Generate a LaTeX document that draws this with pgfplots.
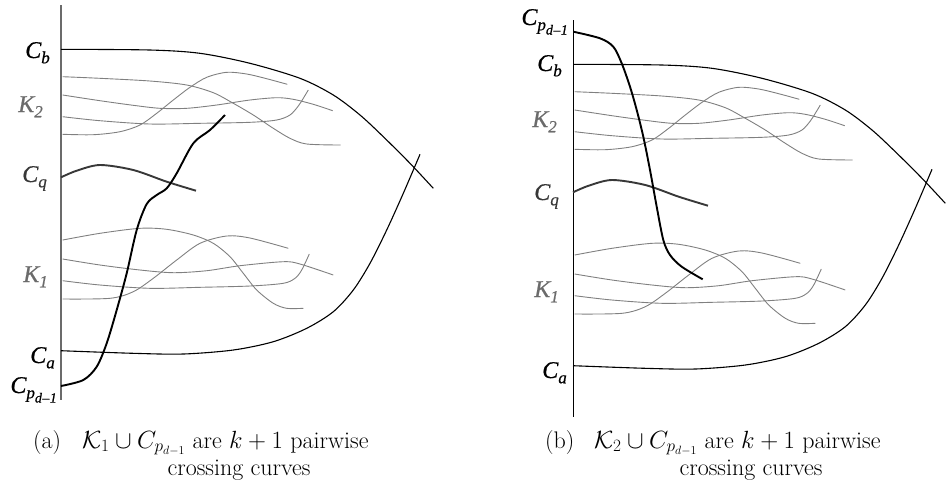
\documentclass[border=0pt]{standalone}
\usepackage{fontspec}
\usepackage{pgfplots}
\usepackage{pgfplotstable}
\pgfplotsset{compat=1.18}
\newfontfamily\tms[ItalicFeatures={FakeBold=0.6}]{Liberation Serif}
\newcommand{\lb}[2]{{\tms\itshape\fontsize{24}{24}\selectfont #1\raisebox{-0.22em}{\fontsize{17}{17}\selectfont #2}}}
\newcommand{\lbp}{{\tms\itshape\fontsize{24}{24}\selectfont C\raisebox{-0.22em}{\fontsize{17}{17}\selectfont p\raisebox{-0.25em}{\fontsize{14}{14}\selectfont d\kern0.03em–\kern0.03em1}}}}
\newcommand{\capf}{\fontsize{24}{27}\selectfont}
\definecolor{kgray}{gray}{0.5}
\definecolor{lgray}{gray}{0.42}
\definecolor{qgray}{gray}{0.22}

\pgfplotstableread{
x y
61 49.3
150 50
200 53.3
250 63.3
300 78.3
333.3 95
360 115
383.3 136.7
410 163.3
433.3 188.3
}\Cb
\pgfplotstableread{
x y
61 350.7
133.3 353.3
183.3 354
233.3 350
273.3 341.7
306.7 328.3
333.3 311.7
353.3 290
370 263.3
386.7 230
403.3 193.3
420 154.3
}\Ca
\pgfplotstableread{
x y
61 177.3
76.7 170.7
100 165
133.3 170
166.7 181.7
196 190.7
}\Cq
\pgfplotstableread{
x y
62.7 76.7
100 78.3
150 81
186.7 85
213.3 92.7
233.3 103.3
253.3 115
273.3 128.3
290 138.3
306.7 144
340.7 145
}\Ka
\pgfplotstableread{
x y
62.7 95
100 100.7
133.3 105.3
160 108.3
186.7 108.3
216.7 105
250 100
276.7 97.7
293.3 99.3
313.3 104.3
332.7 110.7
}\Kb
\pgfplotstableread{
x y
62.7 116.7
100 120.7
150 124
200 123.3
250 122.3
276.7 120
290 115
298.3 106
303.3 98.3
308.3 90
}\Kc
\pgfplotstableread{
x y
62.7 134.3
93.3 134.7
120 131.7
140 125
156.7 113.3
173.3 100
190 87.3
206.7 77.3
226.7 72.3
246.7 74
266.7 78.7
287.3 84.3
}\Kd
\pgfplotstableread{
x y
62.7 240
100 233.3
140 228.3
166.7 229.3
193.3 235
213.3 243.3
230 256.7
243.3 273.3
256.7 290
273.3 303.3
286.7 308.3
303.3 308.3
}\La
\pgfplotstableread{
x y
62.7 259
100 265
140 270
173.3 272.7
206.7 270.7
240 265.7
283.3 261.7
300 264
333.3 275
}\Lb
\pgfplotstableread{
x y
62.7 280.7
100 285
150 288.3
200 287.3
250 286
283.3 283.3
295 278.3
301.7 270
309.3 254
}\Lc
\pgfplotstableread{
x y
62.7 299
110 298.3
133.3 291.7
153.3 278.3
176.7 260
200 243.3
226.7 236
250 238
288.3 248.3
}\Ld
\pgfplotstableread{
x y
61 386
83.3 380
96.7 366.7
106.7 343.3
116.7 310
126.7 273.3
136.7 230
146.7 204
156.7 195
166.7 188.3
176.7 173.3
193.3 143.3
210 130
225 115
}\CpL
\pgfplotstableread{
x y
61.3 16.7
88 23.3
101.3 31.7
109.7 48.3
118 71.7
124.7 95
131.3 121.7
138 155
144.7 191.7
151.3 225
158 240
169.7 251.7
190.7 264.3
}\CpR

\pgfplotsset{diag/.style={hide axis, scale only axis, clip=false, y dir=reverse, anchor=north west}}

\begin{document}
\begin{tikzpicture}
\path[use as bounding box] (0pt,0pt) rectangle (947pt,-483pt);
% ---------- left panel (page frame) ----------
\begin{axis}[diag, at={(0pt,0pt)}, width=947pt, height=483pt,
  xmin=0, xmax=947, ymin=0, ymax=483]
\addplot[lgray, line width=1.8pt] coordinates {(61,5) (61,400)};
\addplot[black, line width=1.1pt, smooth] table {\Cb};
\addplot[black, line width=1.1pt, smooth] table {\Ca};
\addplot[kgray, line width=0.9pt, smooth] table {\Ka};
\addplot[kgray, line width=0.9pt, smooth] table {\Kb};
\addplot[kgray, line width=0.9pt, smooth] table {\Kc};
\addplot[kgray, line width=0.9pt, smooth] table {\Kd};
\addplot[kgray, line width=0.9pt, smooth] table {\La};
\addplot[kgray, line width=0.9pt, smooth] table {\Lb};
\addplot[kgray, line width=0.9pt, smooth] table {\Lc};
\addplot[kgray, line width=0.9pt, smooth] table {\Ld};
\addplot[qgray, line width=1.9pt, smooth] table {\Cq};
\addplot[black, line width=1.9pt, smooth] table {\CpL};
\node[anchor=base east, inner sep=0pt] at (axis cs:50,58) {\lb{C}{b}};
\node[anchor=base east, inner sep=0pt, text=lgray] at (axis cs:43,112) {\lb{K}{2}};
\node[anchor=base east, inner sep=0pt, text=qgray] at (axis cs:47,182) {\lb{C}{q}};
\node[anchor=base east, inner sep=0pt, text=lgray] at (axis cs:48,282) {\lb{K}{1}};
\node[anchor=base east, inner sep=0pt] at (axis cs:55,363) {\lb{C}{a}};
\node[anchor=base east, inner sep=0pt] at (axis cs:57,393) {\lbp};
% captions
\node[anchor=base west, inner sep=0pt] at (axis cs:33,448) {\capf (a)};
\node[anchor=base west, inner sep=0pt] at (axis cs:82,448) {\capf $\mathcal{K}_1\cup C_{p_{d-1}}$ are $k+1$ pairwise};
\node[anchor=base, inner sep=0pt] at (axis cs:239,475) {\capf crossing curves};
\node[anchor=base west, inner sep=0pt] at (axis cs:545,448) {\capf (b)};
\node[anchor=base west, inner sep=0pt] at (axis cs:594,448) {\capf $\mathcal{K}_2\cup C_{p_{d-1}}$ are $k+1$ pairwise};
\node[anchor=base, inner sep=0pt] at (axis cs:751,475) {\capf crossing curves};
\end{axis}
% ---------- right panel ----------
\begin{axis}[diag, at={(512pt,-15pt)}, width=435pt, height=468pt,
  xmin=0, xmax=435, ymin=0, ymax=468]
\addplot[black, line width=1.1pt] coordinates {(61.3,5) (61.3,402)};
\addplot[black, line width=1.1pt, smooth] table {\Cb};
\addplot[black, line width=1.1pt, smooth] table {\Ca};
\addplot[kgray, line width=0.9pt, smooth] table {\Ka};
\addplot[kgray, line width=0.9pt, smooth] table {\Kb};
\addplot[kgray, line width=0.9pt, smooth] table {\Kc};
\addplot[kgray, line width=0.9pt, smooth] table {\Kd};
\addplot[kgray, line width=0.9pt, smooth] table {\La};
\addplot[kgray, line width=0.9pt, smooth] table {\Lb};
\addplot[kgray, line width=0.9pt, smooth] table {\Lc};
\addplot[kgray, line width=0.9pt, smooth] table {\Ld};
\addplot[qgray, line width=1.9pt, smooth] table {\Cq};
\addplot[black, line width=1.9pt, smooth] table {\CpR};
\node[anchor=base east, inner sep=0pt] at (axis cs:56,10) {\lbp};
\node[anchor=base east, inner sep=0pt] at (axis cs:50,56) {\lb{C}{b}};
\node[anchor=base east, inner sep=0pt, text=lgray] at (axis cs:45,112) {\lb{K}{2}};
\node[anchor=base east, inner sep=0pt, text=qgray] at (axis cs:47,185) {\lb{C}{q}};
\node[anchor=base east, inner sep=0pt, text=lgray] at (axis cs:47,282) {\lb{K}{1}};
\node[anchor=base east, inner sep=0pt] at (axis cs:55,363) {\lb{C}{a}};
\end{axis}
\end{tikzpicture}
\end{document}
